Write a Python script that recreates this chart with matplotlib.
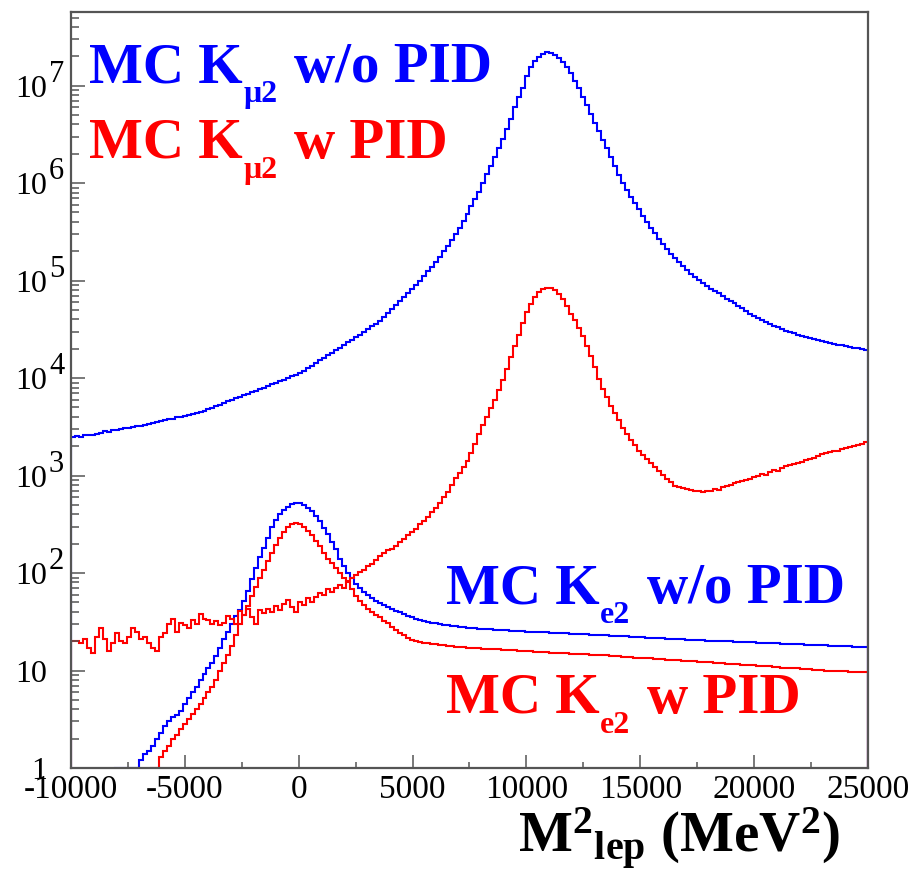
import numpy as np
import matplotlib
matplotlib.use("Agg")
import matplotlib.pyplot as plt
from matplotlib.ticker import FixedLocator, NullFormatter
from matplotlib.transforms import blended_transform_factory, ScaledTranslation

plt.rcParams['mathtext.fontset'] = 'custom'
plt.rcParams['mathtext.rm'] = 'Liberation Serif'
plt.rcParams['mathtext.bf'] = 'Liberation Serif:bold'
plt.rcParams['mathtext.it'] = 'Liberation Serif:italic'
plt.rcParams['axes.unicode_minus'] = False

# histogram binning: 200 bins of 175 MeV^2
x_min, x_max, n_bins = -10000, 25000, 200

# K_mu2 MC, no PID applied
kmu2_nopid = [
    2510, 2540, 2500, 2580, 2620, 2600, 2700, 2760, 2850, 2820,
    2930, 2960, 3000, 3080, 3050, 3150, 3200, 3260, 3300, 3380,
    3480, 3560, 3640, 3700, 3790, 3850, 3950, 4020, 4100, 4190,
    4260, 4370, 4470, 4640, 4810, 4980, 5170, 5360, 5550, 5760,
    5970, 6190, 6420, 6660, 6900, 7160, 7430, 7710, 8000, 8310,
    8620, 8950, 9290, 9640, 10000, 10400, 10800, 11200, 11900, 12650,
    13450, 14300, 15200, 16150, 17150, 18250, 19400, 20600, 21900, 23300,
    24750, 26300, 27950, 29750, 31600, 33900, 36300, 38900, 42800, 47000,
    51700, 56800, 62400, 68600, 75400, 82800, 91000, 1.0e5, 1.117e5, 1.248e5,
    1.394e5, 1.557e5, 1.74e5, 2.0e5, 2.29e5, 2.63e5, 3.02e5, 3.47e5, 4.11e5, 4.87e5,
    5.77e5, 6.84e5, 8.1e5, 1.0e6, 1.23e6, 1.51e6, 1.87e6, 2.3e6, 2.85e6, 3.6e6,
    4.6e6, 6.0e6, 7.6e6, 9.5e6, 1.25e7, 1.55e7, 1.78e7, 1.96e7, 2.12e7, 2.2e7,
    2.17e7, 2.06e7, 1.94e7, 1.77e7, 1.56e7, 1.35e7, 1.13e7, 9.4e6, 7.7e6, 6.3e6,
    5.1e6, 4.15e6, 3.4e6, 2.8e6, 2.28e6, 1.86e6, 1.5e6, 1.22e6, 1.0e6, 8.5e5,
    7.2e5, 6.2e5, 5.37e5, 4.64e5, 4.0e5, 3.47e5, 3.06e5, 2.7e5, 2.39e5, 2.1e5,
    1.86e5, 1.69e5, 1.54e5, 1.41e5, 1.28e5, 1.17e5, 1.09e5, 1.02e5, 9.5e4, 8.9e4,
    8.3e4, 7.8e4, 7.4e4, 6.95e4, 6.55e4, 6.2e4, 5.85e4, 5.5e4, 5.2e4, 4.9e4,
    4.6e4, 4.38e4, 4.17e4, 3.97e4, 3.78e4, 3.6e4, 3.46e4, 3.33e4, 3.2e4, 3.07e4,
    2.95e4, 2.87e4, 2.79e4, 2.72e4, 2.64e4, 2.57e4, 2.51e4, 2.45e4, 2.4e4, 2.34e4,
    2.29e4, 2.25e4, 2.21e4, 2.17e4, 2.13e4, 2.09e4, 2.05e4, 2.02e4, 1.98e4, 1.95e4,
]

# K_mu2 MC surviving the electron PID
kmu2_pid = [
    20, 20, 19, 21, 17, 15, 22, 27, 21, 16,
    19, 24, 20, 19, 22, 27, 25, 21, 22, 19,
    17, 16, 22, 24, 30, 34, 25, 31, 29, 27,
    33, 30, 38, 34, 33, 30, 32, 29, 31, 36,
    34, 30, 41, 37, 43, 35, 30, 42, 39, 43,
    40, 46, 42, 48, 53, 45, 40, 51, 47, 55,
    50, 57, 62, 60, 68, 64, 71, 75, 70, 82,
    88, 95, 102, 108, 118, 125, 135, 150, 160, 172,
    176, 190, 208, 225, 243, 262, 285, 315, 345, 380,
    420, 470, 525, 600, 680, 800, 940, 1070, 1230, 1420,
    1700, 2100, 2700, 3300, 4000, 4900, 6000, 7500, 9600, 12500,
    16500, 21500, 28000, 37000, 48000, 58000, 68000, 77000, 83000, 85000,
    84000, 80000, 73000, 65000, 55000, 45000, 39000, 33000, 27000, 21500,
    17000, 13000, 9800, 7800, 6400, 5200, 4400, 3700, 3100, 2650,
    2300, 2050, 1800, 1620, 1480, 1350, 1220, 1110, 1010, 920,
    850, 790, 760, 740, 720, 705, 700, 690, 680, 690,
    700, 730, 710, 770, 790, 800, 830, 850, 870, 900,
    930, 960, 1000, 1040, 1010, 1100, 1140, 1120, 1200, 1240,
    1280, 1300, 1340, 1380, 1440, 1480, 1520, 1580, 1650, 1700,
    1730, 1770, 1800, 1860, 1900, 1960, 2000, 2050, 2120, 2200,
]

# K_e2 MC, no PID applied
ke2_nopid = [
    0, 0, 0, 0, 0, 0, 0, 0, 0, 0,
    0, 1, 1, 1, 1, 1, 1, 1.2, 1.4, 1.5,
    1.7, 2.0, 2.3, 2.7, 3.0, 3.3, 3.5, 3.8, 4.5, 5.2,
    6.0, 6.8, 8.0, 9.2, 10.5, 12, 14, 17, 21, 25,
    30, 36, 42, 52, 66, 86, 112, 145, 180, 230,
    300, 350, 400, 445, 480, 510, 525, 520, 500, 470,
    430, 385, 340, 290, 250, 210, 175, 140, 118, 100,
    88, 78, 70, 64, 60, 56, 52, 49, 47, 45,
    43, 41, 39.5, 38, 36.5, 35, 34, 33, 32.3, 31.5,
    31, 30.5, 29.8, 29.3, 29, 28.6, 28.3, 28.0, 27.8, 27.5,
    27.3, 27.1, 26.9, 26.8, 26.6, 26.4, 26.3, 26.1, 26.0, 25.8,
    25.7, 25.5, 25.4, 25.2, 25.1, 25.0, 24.9, 24.8, 24.7, 24.6,
    24.5, 24.4, 24.3, 24.2, 24.1, 23.9, 23.9, 23.7, 23.6, 23.5,
    23.4, 23.3, 23.2, 23.0, 23.0, 22.8, 22.7, 22.6, 22.5, 22.4,
    22.3, 22.2, 22.0, 22.0, 21.8, 21.7, 21.6, 21.5, 21.4, 21.3,
    21.2, 21.1, 21.0, 20.9, 20.8, 20.7, 20.6, 20.5, 20.4, 20.3,
    20.2, 20.2, 20.1, 20.0, 19.9, 19.9, 19.8, 19.7, 19.6, 19.6,
    19.5, 19.4, 19.3, 19.3, 19.2, 19.1, 19.0, 19.0, 18.9, 18.8,
    18.7, 18.7, 18.6, 18.5, 18.4, 18.4, 18.3, 18.2, 18.1, 18.1,
    18.0, 17.9, 17.9, 17.8, 17.7, 17.7, 17.6, 17.5, 17.5, 17.4,
]

# K_e2 MC surviving the electron PID
ke2_pid = [
    0, 0, 0, 0, 0, 0, 0, 0, 0, 0,
    0, 0, 0, 0, 0, 0, 0, 0, 0, 0,
    1.0, 1.0, 1.3, 1.5, 1.7, 2.0, 2.2, 2.5, 2.8, 3.2,
    3.6, 4.0, 4.5, 5.2, 6.0, 6.8, 8.0, 9.8, 12, 14.5,
    18, 23, 30, 37, 46, 58, 72, 88, 108, 132,
    160, 195, 230, 265, 295, 318, 330, 322, 300, 272,
    245, 215, 188, 162, 140, 128, 112, 100, 90, 80,
    68, 58, 52, 47, 43, 40, 37, 35, 32, 30.5,
    28, 26, 24, 23, 21.8, 20.8, 20.2, 19.7, 19.3, 19.0,
    18.7, 18.5, 18.3, 18.1, 17.9, 17.7, 17.5, 17.4, 17.3, 17.2,
    17.1, 17.0, 16.9, 16.8, 16.7, 16.6, 16.5, 16.5, 16.4, 16.3,
    16.2, 16.1, 16.0, 15.9, 15.8, 15.7, 15.6, 15.6, 15.5, 15.4,
    15.3, 15.2, 15.1, 15.1, 15.0, 14.9, 14.9, 14.8, 14.7, 14.7,
    14.6, 14.6, 14.5, 14.4, 14.3, 14.2, 14.1, 14.0, 13.9, 13.8,
    13.7, 13.6, 13.5, 13.4, 13.4, 13.3, 13.2, 13.1, 13.0, 12.9,
    12.8, 12.8, 12.7, 12.6, 12.5, 12.4, 12.4, 12.3, 12.2, 12.2,
    12.1, 12.0, 11.9, 11.9, 11.8, 11.7, 11.6, 11.6, 11.5, 11.4,
    11.3, 11.3, 11.2, 11.1, 11.0, 11.0, 10.9, 10.8, 10.7, 10.7,
    10.6, 10.5, 10.5, 10.4, 10.3, 10.3, 10.2, 10.2, 10.1, 10.0,
    10.0, 9.9, 9.9, 9.8, 9.8, 9.7, 9.7, 9.7, 9.6, 9.6,
]

x_ticks = [-10000, -5000, 0, 5000, 10000, 15000, 20000, 25000]
y_decades = [0, 1, 2, 3, 4, 5, 6, 7]

# (head, subscript, tail, colour, x, y) in axes fractions
labels = [
    ("MC K", "μ2", "w/o PID", "blue", 0.022, 0.907),
    ("MC K", "μ2", "w PID", "red", 0.022, 0.807),
    ("MC K", "e2", "w/o PID", "blue", 0.470, 0.218),
    ("MC K", "e2", "w PID", "red", 0.470, 0.073),
]

frame_col = "#555555"
serif = "Liberation Serif"

fig = plt.figure(figsize=(9.16, 8.76), dpi=100)
ax = fig.add_axes([71 / 916, 108 / 876, 797 / 916, 756 / 876])

edges = np.linspace(x_min, x_max, n_bins + 1)
ax.stairs(kmu2_nopid, edges, color="blue", lw=1.5)
ax.stairs(ke2_nopid, edges, color="blue", lw=1.5)
ax.stairs(kmu2_pid, edges, color="red", lw=1.5)
ax.stairs(ke2_pid, edges, color="red", lw=1.5)

ax.set_yscale("log")
ax.set_xlim(x_min, x_max)
ax.set_ylim(1, 5.7e7)

for s in ax.spines.values():
    s.set_color(frame_col)
    s.set_linewidth(1.6)

# x axis ticks, ROOT style (inside, no top ticks)
ax.xaxis.set_major_locator(FixedLocator(x_ticks))
ax.xaxis.set_minor_locator(FixedLocator(np.arange(x_min, x_max + 1, 2500)))
ax.set_xticklabels([str(t) for t in x_ticks], family=serif, fontsize=24)
ax.tick_params(axis="x", which="major", direction="in", length=9.5, width=1.1,
               color=frame_col, pad=5)
ax.tick_params(axis="x", which="minor", direction="in", length=4.5, width=1.1,
               color=frame_col)

# y axis: decade ticks plus 2..9 minors, labels drawn by hand
minors = [m * 10.0 ** d for d in range(0, 8) for m in range(2, 10)]
ax.yaxis.set_major_locator(FixedLocator([10.0 ** d for d in y_decades]))
ax.yaxis.set_minor_locator(FixedLocator(minors))
ax.yaxis.set_minor_formatter(NullFormatter())
ax.tick_params(axis="y", which="major", direction="in", length=10, width=1.1,
               color=frame_col, labelleft=False)
ax.tick_params(axis="y", which="minor", direction="in", length=5.5, width=1.1,
               color=frame_col)

ytrans = blended_transform_factory(ax.transAxes, ax.transData)
base_off = ScaledTranslation(0, -11 / 100, fig.dpi_scale_trans)
exp_off = ScaledTranslation(0, 4 / 100, fig.dpi_scale_trans)
x_base = (47 - 71) / 797
x_exp = (49 - 71) / 797
for d in y_decades:
    if d == 0:
        txt = "1"
    else:
        txt = "10"
    ax.text(x_base, 10.0 ** d, txt, ha="right", va="baseline", family=serif,
            fontsize=23, transform=ytrans + base_off)
    if d >= 2:
        ax.text(x_exp, 10.0 ** d, str(d), ha="left", va="baseline", family=serif,
                fontsize=22, transform=ytrans + exp_off)

renderer = fig.canvas.get_renderer()
dpi = fig.dpi


def shifted(dx_px, dy_px):
    return ax.transAxes + ScaledTranslation(dx_px / dpi, dy_px / dpi,
                                            fig.dpi_scale_trans)


def ktext(head, sub, tail, col, lx, ly, size=41, sub_size=23, drop=20, gap=17):
    opts = dict(color=col, family=serif, fontweight="bold", ha="left",
                va="baseline")
    t1 = ax.text(lx, ly, head, fontsize=size, transform=shifted(0, 0), **opts)
    w1 = t1.get_window_extent(renderer).width + 1
    t2 = ax.text(lx, ly, sub, fontsize=sub_size, transform=shifted(w1, -drop),
                 **opts)
    w2 = t2.get_window_extent(renderer).width
    ax.text(lx, ly, tail, fontsize=size, transform=shifted(w1 + w2 + gap, 0),
            **opts)


for head, sub, tail, col, lx, ly in labels:
    ktext(head, sub, tail, col, lx, ly)

fig.text(840 / 916, 1 - 853 / 876,
         "M$^{\\mathbf{2}}{}_{\\mathbf{lep}}$ (MeV$^{\\mathbf{2}}$)",
         family=serif, fontweight="bold", fontsize=41, ha="right", va="baseline")

fig.savefig("out.png", dpi=100)
